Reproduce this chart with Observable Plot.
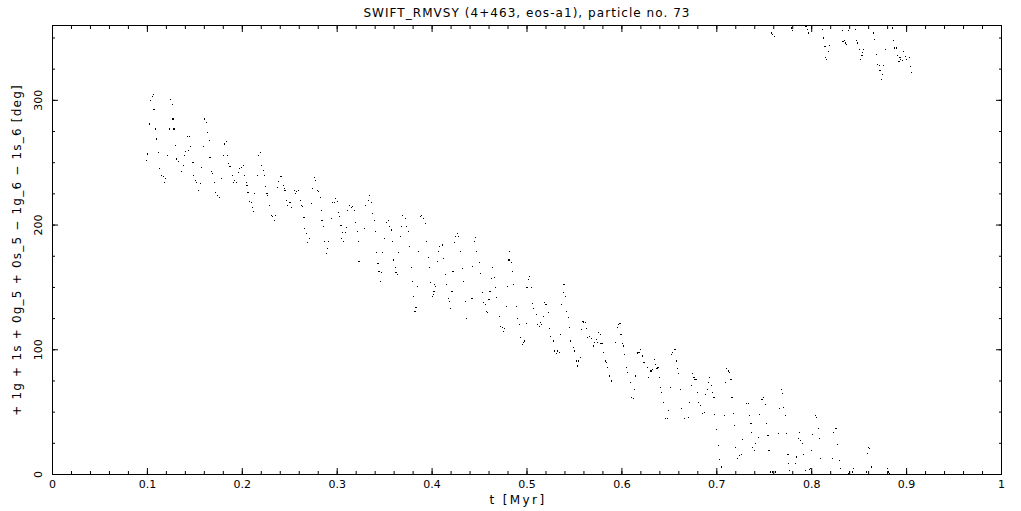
<!DOCTYPE html>
<html><head><meta charset="utf-8">
<script src="https://cdn.jsdelivr.net/npm/d3@7"></script>
<script src="https://cdn.jsdelivr.net/npm/@observablehq/plot@0.6"></script>
<style>
html,body{margin:0;padding:0;background:#fff}
svg{display:block}
g[aria-description="title"] text{letter-spacing:1.05px}
g[aria-description="ylabel"] text{letter-spacing:1.2px}
g[aria-description="xlabel"] text{letter-spacing:2.4px}
</style>
</head><body><div id="chart"></div>
<script>
const titleText = "SWIFT_RMVSY (4+463, eos-a1), particle no. 73";
const xLabel = "t [Myr]";
const yLabel = "+ 1g + 1s + 0g_5 + 0s_5 \u2212 1g_6 \u2212 1s_6 [deg]";
const xTicks = [0,0.1,0.2,0.3,0.4,0.5,0.6,0.7,0.8,0.9,1];
const xTickLabels = ["0","0.1","0.2","0.3","0.4","0.5","0.6","0.7","0.8","0.9","1"];
const yTicks = [0,100,200,300];
const yTickLabels = ["0","100","200","300"];

// [t (Myr), angle (deg)]
const seg1 = [[0.106,305],[0.105,303],[0.103,300],[0.124,301],[0.126,297],[0.107,293],[0.127,285],[0.102,281],[0.160,285],[0.162,282],[0.109,277],[0.123,277],[0.128,277],[0.163,274],[0.142,271],[0.144,271],[0.110,269],[0.165,268],[0.183,267],[0.181,265],[0.130,264],[0.145,263],[0.159,263],[0.143,260],[0.140,259],[0.112,258],[0.100,257],[0.121,256],[0.180,256],[0.184,256],[0.219,258],[0.217,256],[0.139,256],[0.166,254],[0.131,253],[0.133,251],[0.099,252],[0.185,249],[0.138,248],[0.201,248],[0.148,250],[0.220,248],[0.187,247],[0.199,246],[0.197,245],[0.157,246],[0.113,245],[0.136,243],[0.222,244],[0.168,243],[0.196,242],[0.169,241],[0.115,240],[0.117,239],[0.149,240],[0.190,240],[0.202,240],[0.216,240],[0.223,240],[0.119,237],[0.178,237],[0.151,236],[0.192,236],[0.191,234],[0.194,234],[0.118,234],[0.171,234],[0.152,234],[0.156,233],[0.204,234],[0.205,232],[0.224,231],[0.154,228],[0.206,226],[0.213,225],[0.172,226],[0.174,224],[0.176,222],[0.208,219],[0.210,218],[0.211,214],[0.212,211]];
const seg2 = [[0.226,225],[0.227,224],[0.229,216],[0.231,208],[0.232,207],[0.235,208],[0.234,204],[0.240,239],[0.241,239],[0.238,235],[0.237,230],[0.243,232],[0.244,229],[0.245,228],[0.247,220],[0.248,216],[0.250,218],[0.251,218],[0.252,214],[0.255,228],[0.256,225],[0.257,227],[0.259,228],[0.261,220],[0.262,216],[0.263,215],[0.265,206],[0.266,197],[0.268,193],[0.271,189],[0.269,186],[0.276,238],[0.277,236],[0.274,229],[0.279,228],[0.280,227],[0.273,217],[0.282,222],[0.283,212],[0.284,204],[0.286,199],[0.287,187],[0.291,187],[0.290,181],[0.289,177],[0.294,205],[0.295,218],[0.297,218],[0.298,221],[0.300,219],[0.301,210],[0.302,207],[0.304,200],[0.306,194],[0.305,189],[0.307,187],[0.310,198],[0.309,194],[0.311,212],[0.313,216],[0.315,214],[0.316,215],[0.318,212],[0.319,202],[0.321,195],[0.322,187],[0.323,171],[0.330,216],[0.333,220],[0.334,224],[0.336,218],[0.337,209],[0.339,204],[0.329,197],[0.340,195],[0.341,178],[0.343,169],[0.348,178],[0.350,189]];
const seg3 = [[0.344,163],[0.347,162],[0.346,155],[0.352,202],[0.354,204],[0.355,199],[0.357,196],[0.358,187],[0.359,172],[0.361,166],[0.362,162],[0.364,160],[0.365,178],[0.367,191],[0.368,199],[0.369,208],[0.372,205],[0.373,199],[0.375,195],[0.376,183],[0.378,166],[0.379,155],[0.380,143],[0.382,131],[0.383,134],[0.385,151],[0.386,179],[0.388,207],[0.389,208],[0.391,205],[0.393,201],[0.394,187],[0.396,174],[0.397,166],[0.398,154],[0.400,143],[0.401,144],[0.402,147],[0.403,152],[0.404,151],[0.406,171],[0.407,179],[0.408,183],[0.411,184],[0.412,173],[0.414,160],[0.415,152],[0.417,141],[0.418,139],[0.419,133],[0.421,147],[0.422,163],[0.424,186],[0.425,191],[0.427,193],[0.428,191],[0.430,179],[0.432,165],[0.433,155],[0.435,139],[0.436,125],[0.442,141],[0.443,167],[0.445,187],[0.446,190],[0.447,179],[0.450,170],[0.451,161],[0.453,146],[0.454,138],[0.456,136],[0.457,131],[0.458,130],[0.460,140],[0.461,147],[0.463,157],[0.464,166],[0.466,158],[0.467,150],[0.468,142]];
const seg4 = [[0.471,127],[0.472,119],[0.474,118],[0.476,117],[0.475,115],[0.478,135],[0.479,151],[0.481,172],[0.482,179],[0.484,170],[0.485,163],[0.486,152],[0.489,135],[0.490,125],[0.492,120],[0.493,110],[0.495,104],[0.496,106],[0.497,107],[0.499,121],[0.500,150],[0.502,156],[0.503,159],[0.505,150],[0.506,137],[0.507,133],[0.510,128],[0.511,120],[0.513,119],[0.514,122],[0.515,120],[0.517,127],[0.518,138],[0.520,136],[0.521,136],[0.523,130],[0.524,117],[0.525,111],[0.528,107],[0.529,99],[0.531,97],[0.532,99],[0.534,98],[0.535,112],[0.536,136],[0.538,146],[0.539,152],[0.541,143],[0.542,131],[0.544,126],[0.545,118],[0.546,107],[0.549,102],[0.550,99],[0.552,91],[0.554,91],[0.553,87],[0.556,94],[0.557,116],[0.559,123],[0.560,122],[0.562,122],[0.563,117],[0.564,110],[0.566,111],[0.568,109],[0.570,103],[0.571,106],[0.573,108],[0.574,106],[0.575,114],[0.577,112],[0.578,105],[0.580,105],[0.581,98],[0.583,91],[0.584,90],[0.585,86],[0.587,79],[0.589,75],[0.593,106],[0.595,118],[0.596,120],[0.598,121],[0.599,112],[0.601,105],[0.602,103],[0.603,96]];
const seg5 = [[0.605,86],[0.606,82],[0.609,74],[0.610,62],[0.612,61],[0.613,68],[0.614,79],[0.616,97],[0.617,98],[0.618,98],[0.620,100],[0.619,98],[0.622,95],[0.623,90],[0.624,90],[0.627,86],[0.628,78],[0.630,83],[0.631,83],[0.632,84],[0.634,92],[0.635,88],[0.637,85],[0.638,86],[0.640,78],[0.641,70],[0.642,66],[0.644,58],[0.646,45],[0.648,45],[0.649,51],[0.651,70],[0.652,96],[0.653,98],[0.655,100],[0.656,100],[0.658,91],[0.659,85],[0.660,81],[0.662,68],[0.663,53],[0.666,45],[0.670,46],[0.671,58],[0.673,71],[0.674,81],[0.676,78],[0.677,76],[0.679,76],[0.680,66],[0.681,58],[0.683,55],[0.685,49],[0.687,50],[0.688,64],[0.690,68],[0.691,74],[0.692,78],[0.694,71],[0.695,66],[0.697,62],[0.698,48],[0.700,36],[0.702,23],[0.703,12],[0.705,6],[0.708,47],[0.709,74],[0.710,85],[0.712,83],[0.713,82],[0.715,76],[0.716,62],[0.718,49],[0.719,39]];
const seg6 = [[0.720,22],[0.722,13],[0.724,15],[0.726,16],[0.727,28],[0.731,57],[0.733,57],[0.734,47],[0.736,41],[0.737,34],[0.738,22],[0.740,19],[0.741,25],[0.744,30],[0.745,48],[0.747,60],[0.748,60],[0.749,62],[0.751,56],[0.752,41],[0.754,31],[0.755,19],[0.757,2],[0.759,2],[0.762,2],[0.765,33],[0.766,53],[0.768,68],[0.769,65],[0.770,54],[0.772,47],[0.773,33],[0.775,16],[0.776,9],[0.777,3],[0.783,9],[0.784,14],[0.786,29],[0.787,34],[0.788,27],[0.790,25],[0.791,16],[0.793,3],[0.798,4],[0.799,5],[0.800,19],[0.801,32],[0.804,47],[0.805,46],[0.807,37],[0.808,29],[0.809,13],[0.822,13],[0.823,34],[0.825,37],[0.826,37],[0.827,24],[0.829,11],[0.830,5],[0.839,1],[0.840,2],[0.843,2],[0.844,5],[0.858,2],[0.859,17],[0.860,22],[0.861,21],[0.863,6],[0.880,5],[0.881,2],[0.882,1]];
const segTop = [[0.758,354],[0.759,353],[0.761,351],[0.779,358],[0.780,356],[0.794,359],[0.796,357],[0.797,354],[0.811,357],[0.812,350],[0.814,343],[0.815,334],[0.816,333],[0.818,339],[0.819,344],[0.832,356],[0.833,347],[0.835,348],[0.836,346],[0.837,345],[0.839,356],[0.846,357],[0.847,348],[0.848,346],[0.850,341],[0.851,333],[0.853,336],[0.854,338],[0.855,341],[0.865,354],[0.866,349],[0.868,337],[0.869,329],[0.871,328],[0.872,324],[0.874,317],[0.875,321],[0.876,328],[0.878,341],[0.885,358],[0.886,348],[0.887,342],[0.889,342],[0.890,336],[0.892,331],[0.893,334],[0.894,333],[0.896,332],[0.897,339],[0.899,335],[0.900,333],[0.903,334],[0.904,327],[0.905,322]];

const points = [...seg1, ...seg2, ...seg3, ...seg4, ...seg5, ...seg6, ...segTop]
  .map(([t, a]) => ({t, a}));

const font = "DejaVu Sans";
const chart = Plot.plot({
  width: 1021, height: 511,
  marginLeft: 52, marginRight: 20, marginTop: 25, marginBottom: 37,
  x: {domain: [0, 1]},
  y: {domain: [0, 360]},
  style: {fontFamily: font, fontSize: "11px", background: "#fff", color: "#000", overflow: "visible"},
  marks: [
    Plot.axisX(xTicks, {anchor: "bottom", tickSize: -6, tickFormat: () => "", label: null}),
    Plot.axisX(d3.range(0, 1.0001, 0.02), {anchor: "bottom", tickSize: -3, tickFormat: () => "", label: null}),
    Plot.axisX(xTicks, {anchor: "top", tickSize: -6, tickFormat: () => "", label: null}),
    Plot.axisX(d3.range(0, 1.0001, 0.02), {anchor: "top", tickSize: -3, tickFormat: () => "", label: null}),
    Plot.axisY(yTicks, {anchor: "left", tickSize: -6, tickFormat: () => "", label: null}),
    Plot.axisY(d3.range(0, 360.1, 25), {anchor: "left", tickSize: -3, tickFormat: () => "", label: null}),
    Plot.axisY(yTicks, {anchor: "right", tickSize: -6, tickFormat: () => "", label: null}),
    Plot.axisY(d3.range(0, 360.1, 25), {anchor: "right", tickSize: -3, tickFormat: () => "", label: null}),
    Plot.frame({stroke: "#000"}),
    Plot.text(xTicks, {x: d => d, text: (d, i) => xTickLabels[i], frameAnchor: "bottom", dy: 13, fill: "#000", fontSize: 11}),
    Plot.text(yTicks, {y: d => d, text: (d, i) => yTickLabels[i], frameAnchor: "left", textAnchor: "middle", dx: -14, rotate: -90, fill: "#000", fontSize: 11}),
    Plot.text([titleText], {text: d => d, frameAnchor: "top", dy: -17, fill: "#000", fontSize: 12, ariaDescription: "title"}),
    Plot.text([xLabel], {text: d => d, frameAnchor: "bottom", dx: -9, dy: 29, fill: "#000", fontSize: 12, ariaDescription: "xlabel"}),
    Plot.text([yLabel], {text: d => d, frameAnchor: "left", textAnchor: "middle", dx: -35, rotate: -90, fill: "#000", fontSize: 12, ariaDescription: "ylabel"}),
    Plot.dot(points, {x: "t", y: "a", symbol: "square", r: 0.62, fill: "#000", stroke: "none", shapeRendering: "crispEdges"})
  ]
});
document.getElementById("chart").appendChild(chart);
</script>
</body></html>
